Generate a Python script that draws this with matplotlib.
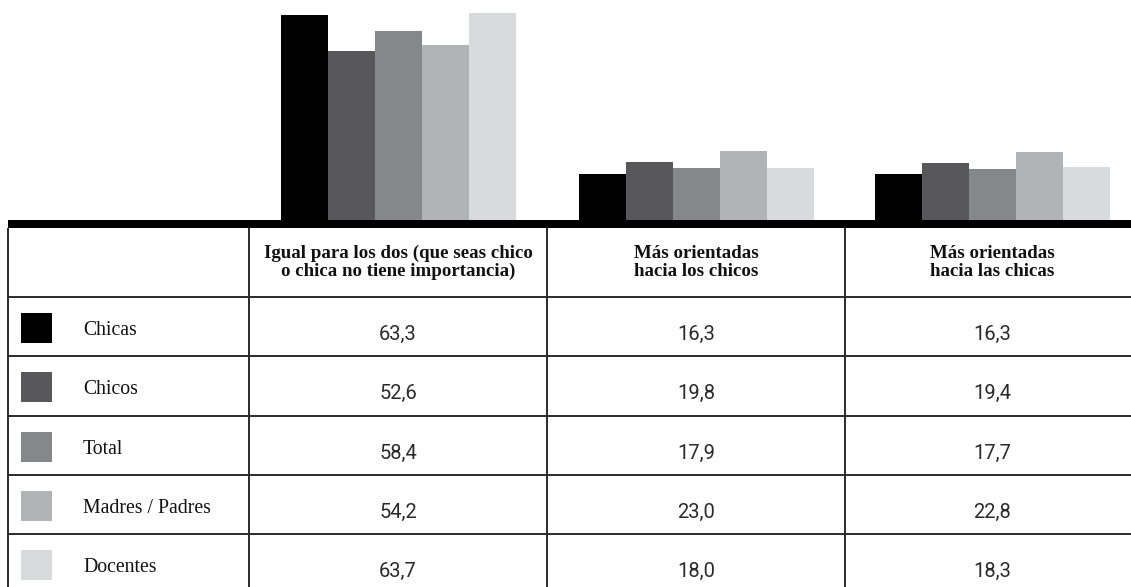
import matplotlib
matplotlib.use("Agg")
import matplotlib.pyplot as plt
from matplotlib.patches import Rectangle

categories = ["Igual para los dos (que seas chico\no chica no tiene importancia)",
              "Más orientadas\nhacia los chicos",
              "Más orientadas\nhacia las chicas"]
series_names = ["Chicas", "Chicos", "Total", "Madres / Padres", "Docentes"]
chicas = [63.3, 16.3, 16.3]
chicos = [52.6, 19.8, 19.4]
total = [58.4, 17.9, 17.7]
madres_padres = [54.2, 23.0, 22.8]
docentes = [63.7, 18.0, 18.3]
value_labels = [["63,3", "16,3", "16,3"],
                ["52,6", "19,8", "19,4"],
                ["58,4", "17,9", "17,7"],
                ["54,2", "23,0", "22,8"],
                ["63,7", "18,0", "18,3"]]
colors = ["#000000", "#58585a", "#868789", "#b2b3b5", "#d9dadc"]

series = [chicas, chicos, total, madres_padres, docentes]

W, H = 1131, 587
fig = plt.figure(figsize=(W / 100, H / 100), dpi=100)

# table geometry (pixels)
col_edges = [8, 249, 547, 845, 1139]
base_y = 220
thick_bottom = 228
row_lines = [297, 356, 416, 475, 534, 593]
col_centers = [(col_edges[i] + col_edges[i + 1]) / 2 for i in range(1, 4)]
bar_w = 47

# bar axes
axb = fig.add_axes([0, (H - base_y) / H, 1, base_y / H])
axb.set_xlim(0, W)
axb.set_ylim(2.7, 67.6)
axb.axis("off")
for si, vals in enumerate(series):
    xs = [c + (si - 2) * bar_w for c in col_centers]
    axb.bar(xs, vals, width=bar_w, color=colors[si], linewidth=0)

# table axes in pixel coordinates
ax = fig.add_axes([0, 0, 1, 1])
ax.set_xlim(0, W)
ax.set_ylim(H, 0)
ax.axis("off")
ax.patch.set_alpha(0)

ax.add_patch(Rectangle((8, base_y), W - 8, thick_bottom - base_y, color="black", lw=0))

line_kw = dict(color="#2a2a2a", lw=1.4, solid_capstyle="butt")
for y in row_lines[:-1]:
    ax.plot([8, W], [y, y], **line_kw)
for x in col_edges[:-1]:
    ax.plot([x, x], [thick_bottom, H], **line_kw)

# headers
for ci, cat in enumerate(categories):
    ax.text(col_centers[ci], (thick_bottom + row_lines[0]) / 2, cat,
            ha="center", va="center", fontsize=13.6, fontweight="bold",
            family="Liberation Serif", linespacing=1.0, color="#111111")

# rows
row_tops = row_lines[0:5]
for ri, name in enumerate(series_names):
    top = row_tops[ri]
    ax.add_patch(Rectangle((21, top + 16), 31, 30, color=colors[ri], lw=0))
    ax.text(83, top + 38, name, ha="left", va="baseline", fontsize=14.2,
            family="Liberation Serif", color="#111111")
    for ci in range(3):
        ax.text(col_centers[ci], top + 43, value_labels[ri][ci], ha="center",
                va="baseline", fontsize=14.5, fontweight="normal",
                family="Roboto", color="#2a2a2a")

fig.savefig("out.png", dpi=100)
